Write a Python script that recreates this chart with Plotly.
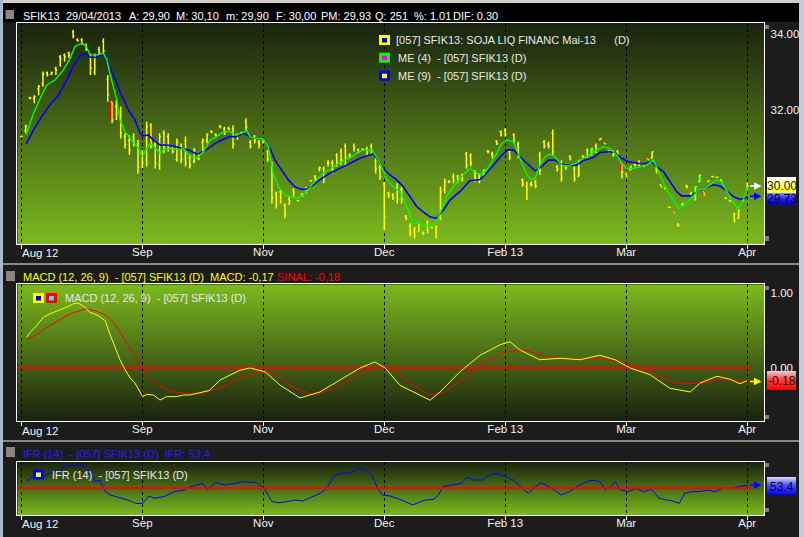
import base64
import plotly.graph_objects as go

W, H = 804, 537
FONT = "Liberation Sans, Arial, sans-serif"

# ---------------- data ----------------
tick_idx = [0, 28, 56, 84, 112, 140, 168]
tick_text = ["Aug 12", "Sep", "Nov", "Dec", "Feb 13", "Mar", "Apr"]

highs = [31.32, 31.61, 32.35, 32.39, 32.66, 33.01, 33.01, 33.01, 33.14, 33.45,
         33.49, 33.53, 34.11, 33.89, 33.89, 33.75, 33.49, 33.49, 33.67, 33.89,
         32.92, 32.22, 32.26, 32.09, 31.39, 31.34, 31.39, 31.21, 30.95, 31.69,
         31.65, 31.21, 31.39, 31.47, 31.39, 31.04, 31.25, 31.12, 31.30, 30.82,
         31.00, 30.90, 31.25, 31.39, 31.47, 31.39, 31.60, 31.56, 31.56, 31.60,
         31.39, 31.43, 31.78, 31.21, 31.34, 31.21, 31.25, 30.95, 30.64, 29.85,
         29.89, 29.54, 29.72, 29.94, 29.63, 29.81, 29.98, 30.16, 30.29, 30.51,
         30.51, 30.68, 30.68, 30.86, 30.99, 31.12, 30.86, 31.12, 30.99, 30.99,
         31.03, 31.12, 30.73, 30.55, 30.11, 29.85, 29.81, 30.07, 29.98, 29.24,
         29.02, 28.93, 29.02, 28.80, 29.10, 28.93, 28.97, 29.98, 30.20, 30.16,
         30.33, 30.29, 30.33, 30.90, 30.86, 30.42, 30.33, 30.42, 30.95, 30.90,
         31.21, 31.47, 31.52, 30.95, 31.39, 31.17, 30.20, 30.11, 30.11, 30.16,
         30.90, 31.21, 31.17, 31.49, 30.55, 30.68, 30.60, 30.81, 30.51, 30.68,
         30.81, 30.99, 30.99, 31.12, 31.25, 31.13, 30.95, 30.95, 30.95, 30.60,
         30.33, 30.51, 30.60, 30.68, 30.55, 30.72, 30.90, 30.51, 30.03, 29.95,
         29.45, 29.32, 29.02, 29.54, 30.03, 29.85, 29.98, 30.29, 29.85, 30.14,
         30.26, 30.24, 30.16, 29.69, 29.63, 29.30, 29.37, 29.68, 30.10]
lows = [31.28, 31.39, 32.28, 32.18, 32.39, 32.61, 32.88, 32.92, 32.92, 33.14,
        33.27, 33.36, 33.89, 33.80, 33.71, 33.55, 32.92, 32.92, 33.40, 33.45,
        32.22, 31.65, 31.74, 31.25, 30.99, 30.82, 31.04, 30.33, 30.47, 30.51,
        30.99, 30.46, 30.42, 30.86, 30.90, 30.86, 30.64, 30.60, 30.51, 30.46,
        30.60, 30.68, 30.86, 31.12, 31.39, 31.30, 31.52, 31.34, 31.47, 30.99,
        31.21, 31.34, 31.47, 30.99, 31.12, 30.99, 31.12, 30.64, 29.54, 29.41,
        29.54, 29.15, 29.50, 29.72, 29.59, 29.72, 29.81, 30.11, 30.11, 30.38,
        30.07, 30.51, 30.33, 30.51, 30.55, 30.55, 30.73, 30.90, 30.86, 30.95,
        30.81, 30.86, 30.33, 30.16, 28.84, 29.68, 29.63, 29.54, 29.54, 29.10,
        28.67, 28.62, 28.80, 28.71, 28.75, 28.89, 28.62, 29.10, 29.81, 30.07,
        30.07, 30.07, 30.11, 30.46, 30.51, 30.11, 30.07, 30.25, 30.86, 30.73,
        31.08, 31.30, 31.30, 30.68, 31.12, 30.73, 29.98, 29.63, 29.98, 29.94,
        30.29, 30.99, 30.99, 30.81, 30.38, 30.11, 30.42, 30.68, 30.11, 30.25,
        30.73, 30.73, 30.81, 30.86, 31.21, 31.11, 30.86, 30.77, 30.81, 30.20,
        30.25, 30.42, 30.51, 30.51, 30.51, 30.70, 30.73, 30.33, 29.98, 29.93,
        29.43, 29.30, 28.93, 29.50, 29.94, 29.72, 29.63, 30.11, 29.76, 30.12,
        30.24, 30.22, 30.11, 29.67, 29.59, 29.04, 29.15, 29.59, 29.90]
opens = [31.30, 31.45, 32.31, 32.31, 32.55, 32.70, 32.98, 32.95, 33.10, 33.40,
         33.45, 33.50, 34.05, 33.85, 33.85, 33.70, 33.40, 33.00, 33.60, 33.80,
         32.80, 32.22, 32.10, 31.95, 31.30, 31.20, 31.30, 31.10, 30.85, 30.70,
         31.60, 31.10, 30.55, 31.40, 31.30, 31.00, 30.70, 31.05, 31.20, 30.75,
         30.65, 30.85, 31.15, 31.20, 31.45, 31.35, 31.58, 31.50, 31.52, 31.50,
         31.35, 31.40, 31.70, 31.15, 31.30, 31.15, 31.20, 30.90, 30.50, 29.80,
         29.85, 29.50, 29.65, 29.90, 29.61, 29.78, 29.95, 30.14, 30.25, 30.45,
         30.45, 30.60, 30.60, 30.80, 30.90, 31.05, 30.80, 31.05, 30.95, 30.97,
         30.98, 31.05, 30.65, 30.50, 30.05, 29.80, 29.75, 29.95, 29.90, 29.20,
         28.95, 28.85, 28.80, 28.78, 29.05, 28.91, 28.97, 29.20, 29.90, 30.12,
         30.25, 30.25, 30.28, 30.85, 30.80, 30.35, 30.30, 30.25, 30.92, 30.85,
         31.18, 31.42, 31.48, 30.90, 31.35, 31.10, 30.15, 29.97, 30.05, 30.10,
         30.80, 31.15, 31.10, 31.40, 30.50, 30.60, 30.55, 30.78, 30.45, 30.25,
         30.78, 30.95, 30.81, 31.05, 31.21, 31.13, 30.92, 30.90, 30.90, 30.60,
         30.33, 30.42, 30.57, 30.62, 30.55, 30.72, 30.73, 30.45, 30.03, 29.93,
         29.44, 29.32, 29.00, 29.50, 30.00, 29.80, 29.63, 30.11, 29.85, 30.12,
         30.25, 30.23, 30.16, 29.68, 29.62, 29.25, 29.15, 29.65, 29.90]
closes = [31.30, 31.58, 32.31, 32.35, 32.62, 32.95, 32.92, 32.98, 33.05, 33.35,
          33.40, 33.45, 33.95, 33.82, 33.75, 33.60, 33.10, 33.40, 33.50, 33.55,
          32.40, 31.74, 31.90, 31.40, 31.10, 30.95, 31.15, 30.50, 30.60, 31.55,
          31.12, 30.60, 31.30, 30.95, 31.00, 30.90, 31.15, 30.70, 30.60, 30.55,
          30.95, 30.72, 31.20, 31.35, 31.42, 31.32, 31.55, 31.40, 31.50, 31.10,
          31.30, 31.38, 31.55, 31.05, 31.20, 31.10, 31.15, 30.70, 29.70, 29.50,
          29.70, 29.25, 29.60, 29.80, 29.61, 29.75, 29.90, 30.14, 30.20, 30.48,
          30.20, 30.62, 30.45, 30.60, 30.70, 30.75, 30.78, 31.00, 30.90, 30.97,
          30.90, 30.95, 30.45, 30.25, 29.20, 29.75, 29.70, 29.65, 29.65, 29.15,
          28.75, 28.70, 29.02, 28.75, 28.85, 28.91, 28.93, 29.85, 30.10, 30.10,
          30.15, 30.15, 30.20, 30.55, 30.60, 30.20, 30.15, 30.42, 30.90, 30.80,
          31.12, 31.35, 31.35, 30.75, 31.20, 30.80, 30.05, 29.92, 30.02, 30.00,
          30.40, 31.05, 31.05, 30.90, 30.45, 30.20, 30.50, 30.72, 30.20, 30.68,
          30.76, 30.80, 30.99, 30.95, 31.25, 31.11, 30.90, 30.82, 30.85, 30.38,
          30.25, 30.51, 30.55, 30.58, 30.51, 30.70, 30.90, 30.40, 29.98, 29.95,
          29.44, 29.30, 28.95, 29.54, 29.97, 29.76, 29.98, 30.29, 29.76, 30.14,
          30.25, 30.23, 30.11, 29.68, 29.60, 29.10, 29.37, 29.62, 30.00]
bar_idx = list(range(len(highs)))
assert len(lows) == len(opens) == len(closes) == len(highs) == 169

# coloured candle bodies (green = up, red = down)
body_idx = [21, 30, 92, 96, 107, 117, 129, 132, 134, 135, 139, 140, 141, 144, 145,
            146, 148, 149, 151, 153, 156, 157, 158, 159, 162, 166, 168]
body_open = [32.22, 31.60, 28.80, 28.99, 30.25, 29.97, 30.25, 30.81, 31.21, 31.14,
             30.60, 30.33, 30.42, 30.55, 30.73, 30.73, 30.03, 29.92, 29.33, 29.50,
             29.63, 30.11, 29.85, 30.11, 30.16, 29.15, 29.90]
body_close = [31.74, 31.12, 29.02, 28.93, 30.42, 29.92, 30.68, 30.99, 31.25, 31.10,
              30.38, 30.25, 30.51, 30.51, 30.69, 30.90, 29.98, 29.96, 29.29, 29.54,
              29.98, 30.29, 29.76, 30.15, 30.11, 29.37, 30.00]

# ME (4) - green, ME (9) - blue
me4_x = [1.1, 2.8, 4.7, 5.9, 7.8, 9.7, 11.3, 12.4, 14.0, 15.0, 15.9, 17.4, 19.0, 19.8,
         20.5, 21.3, 22.1, 22.8, 24.0, 25.5, 27.1, 28.0, 29.0, 29.9, 31.0, 32.1, 33.3,
         34.8, 36.3, 37.5, 38.7, 40.6, 42.1, 43.7, 45.2, 46.8, 48.3, 49.5, 51.0, 52.2,
         52.9, 54.5, 56.0, 57.2, 58.3, 59.5, 61.0, 62.6, 64.1, 65.7, 67.2, 68.7, 70.3,
         71.8, 73.4, 74.9, 76.5, 78.0, 79.5, 81.1, 82.2, 83.4, 84.6, 86.1, 87.6, 89.2,
         90.7, 92.3, 93.0, 94.2, 95.7, 96.9, 98.4, 100.0, 101.9, 103.8, 105.0, 106.2,
         107.3, 108.5, 110.0, 111.2, 112.3, 113.9, 115.4, 117.0, 118.1, 118.9, 120.0,
         121.2, 122.4, 123.5, 124.7, 125.8, 127.0, 128.5, 130.1, 131.6, 133.2, 134.7,
         136.2, 137.8, 138.9, 140.1, 141.6, 143.2, 144.7, 146.3, 147.8, 149.4, 150.9,
         152.1, 153.6, 155.1, 156.7, 158.2, 159.8, 160.9, 162.1, 163.2, 164.4, 165.8,
         166.7, 167.5, 168.0]
me4_y = [31.34, 31.91, 32.39, 32.66, 32.79, 33.05, 33.36, 33.67, 33.77, 33.67, 33.45,
         33.45, 33.49, 33.32, 32.96, 32.57, 32.26, 31.74, 31.43, 31.21, 30.99, 30.77,
         30.99, 31.12, 30.99, 30.86, 30.99, 30.99, 30.95, 30.99, 30.82, 30.73, 30.90,
         31.21, 31.30, 31.43, 31.43, 31.34, 31.39, 31.46, 31.30, 31.25, 31.23, 31.03,
         30.33, 29.98, 29.76, 29.72, 29.68, 29.81, 30.03, 30.20, 30.38, 30.46, 30.60,
         30.68, 30.77, 30.90, 30.95, 30.95, 30.77, 30.51, 30.16, 29.98, 29.85, 29.46,
         29.02, 29.02, 28.95, 28.97, 28.97, 29.28, 29.72, 29.98, 30.25, 30.46, 30.38,
         30.29, 30.38, 30.55, 30.86, 31.12, 31.21, 31.17, 30.73, 30.29, 30.16, 30.20,
         30.55, 30.77, 30.84, 30.77, 30.60, 30.51, 30.55, 30.60, 30.73, 30.81, 30.95,
         31.03, 30.99, 30.81, 30.60, 30.46, 30.46, 30.51, 30.55, 30.68, 30.29, 29.89,
         29.63, 29.41, 29.50, 29.68, 29.89, 29.94, 30.07, 30.16, 30.11, 29.89, 29.63,
         29.41, 29.54, 29.76, 29.98]
me9_x = [1.1, 2.8, 4.7, 6.6, 8.6, 10.5, 12.1, 13.6, 15.0, 15.9, 17.4, 19.0, 20.5, 21.7,
         23.2, 24.8, 26.3, 27.5, 28.0, 29.4, 30.6, 32.1, 33.6, 35.2, 37.1, 38.7, 40.6,
         42.1, 43.7, 45.2, 46.8, 48.3, 49.8, 51.4, 52.9, 54.5, 56.0, 57.6, 58.7, 60.3,
         61.8, 63.3, 64.9, 66.0, 67.6, 69.1, 70.7, 72.2, 73.8, 75.3, 76.8, 78.4, 79.9,
         81.5, 82.6, 83.8, 85.3, 86.9, 88.4, 89.9, 91.5, 93.0, 94.6, 96.1, 97.7, 99.2,
         101.5, 103.8, 106.2, 107.3, 109.2, 111.2, 112.7, 113.9, 115.4, 117.0, 118.9,
         120.4, 122.0, 123.5, 125.1, 127.0, 128.5, 130.1, 132.4, 133.9, 135.9, 137.4,
         138.9, 140.5, 142.4, 143.9, 145.9, 147.0, 148.6, 150.1, 151.7, 152.8, 155.1,
         156.7, 158.6, 160.2, 161.7, 163.2, 164.8, 166.3, 167.5, 168.0]
me9_y = [31.10, 31.47, 31.82, 32.13, 32.39, 32.79, 33.18, 33.42, 33.49, 33.39, 33.39,
         33.47, 33.14, 32.79, 32.39, 32.00, 31.74, 31.39, 31.32, 31.34, 31.21, 31.08,
         31.08, 31.05, 30.99, 30.95, 30.84, 30.90, 31.03, 31.14, 31.23, 31.30, 31.30,
         31.39, 31.30, 31.25, 31.23, 30.99, 30.68, 30.42, 30.16, 29.98, 29.91, 29.92,
         30.03, 30.16, 30.29, 30.38, 30.46, 30.55, 30.64, 30.73, 30.79, 30.84, 30.68,
         30.46, 30.29, 30.16, 29.98, 29.72, 29.46, 29.32, 29.19, 29.15, 29.37, 29.63,
         29.85, 30.14, 30.17, 30.29, 30.55, 30.81, 30.95, 30.95, 30.77, 30.60, 30.40,
         30.51, 30.68, 30.68, 30.57, 30.55, 30.55, 30.67, 30.75, 30.88, 30.90, 30.88,
         30.73, 30.64, 30.60, 30.58, 30.64, 30.51, 30.38, 30.11, 29.85, 29.74, 29.74,
         29.88, 29.96, 30.03, 30.00, 29.88, 29.72, 29.65, 29.68, 29.73]

# MACD (12, 26, 9): line (yellow) and signal (red)
macd_x = [1.2, 2.0, 3.5, 5.1, 6.6, 8.6, 10.5, 12.0, 13.2, 14.7, 15.9, 17.8, 19.4, 20.5,
          21.7, 22.8, 24.0, 25.2, 26.3, 27.5, 28.1, 29.0, 30.6, 32.1, 33.6, 35.9, 37.5,
          39.0, 40.6, 43.5, 46.0, 50.6, 52.9, 56.4, 59.9, 64.5, 69.1, 73.8, 78.4, 81.8,
          84.2, 87.6, 92.3, 94.6, 96.9, 101.5, 106.2, 110.8, 113.1, 115.4, 120.0, 124.7,
          129.3, 133.9, 137.4, 140.9, 145.5, 150.1, 154.8, 157.1, 161.0, 164.0, 166.3,
          168.0]
macd_y = [0.405, 0.473, 0.563, 0.676, 0.721, 0.766, 0.811, 0.856, 0.865, 0.811, 0.743,
          0.699, 0.631, 0.451, 0.270, 0.113, -0.022, -0.135, -0.203, -0.315, -0.382,
          -0.351, -0.36, -0.428, -0.382, -0.382, -0.36, -0.36, -0.338, -0.30, -0.16,
          -0.03, 0.0, -0.05, -0.23, -0.40, -0.32, -0.16, 0.0, 0.08, 0.0, -0.23, -0.36,
          -0.43, -0.32, -0.05, 0.17, 0.31, 0.35, 0.24, 0.11, 0.13, 0.11, 0.17, 0.11, 0.0,
          -0.09, -0.27, -0.32, -0.20, -0.11, -0.15, -0.21, -0.17]
signal_x = [1.2, 3.5, 5.9, 8.6, 11.3, 13.6, 15.1, 17.4, 19.8, 21.3, 23.2, 25.2, 26.7,
            28.1, 29.8, 31.7, 33.6, 35.9, 38.3, 40.6, 46.0, 50.6, 55.2, 58.7, 63.3, 67.9,
            72.5, 77.1, 81.8, 85.3, 89.9, 94.6, 98.1, 102.7, 107.3, 111.9, 116.5, 121.2,
            126.9, 133.9, 139.7, 145.5, 151.3, 157.1, 161.7, 168.0]
signal_y = [0.383, 0.442, 0.541, 0.631, 0.721, 0.766, 0.789, 0.757, 0.699, 0.608, 0.451,
            0.248, 0.113, -0.008, -0.135, -0.225, -0.293, -0.324, -0.338, -0.351, -0.27,
            -0.13, -0.05, -0.08, -0.27, -0.36, -0.27, -0.11, 0.01, 0.0, -0.20, -0.36,
            -0.32, -0.13, 0.08, 0.21, 0.24, 0.16, 0.12, 0.13, 0.07, -0.05, -0.20, -0.21,
            -0.15, -0.18]
macd_ref = 0.0

# IFR (14)
rsi_x = [1.2, 2.2, 5.2, 6.3, 9.3, 9.9, 14.1, 15.2, 16.4, 17.0, 18.2, 19.4, 20.6, 22.4,
         23.5, 25.3, 26.5, 28.1, 29.5, 30.7, 33.0, 35.4, 37.8, 39.0, 40.8, 42.0, 43.1,
         44.9, 47.3, 49.1, 51.4, 54.4, 56.2, 58.0, 59.8, 61.5, 63.3, 65.1, 66.9, 69.2,
         71.0, 72.2, 74.0, 76.4, 78.1, 79.9, 81.1, 82.3, 83.5, 85.3, 87.0, 88.8, 90.6,
         92.4, 93.6, 95.4, 96.5, 97.7, 100.1, 101.9, 103.1, 104.8, 106.6, 108.4, 110.2,
         112.0, 113.8, 115.5, 117.3, 119.1, 120.3, 121.5, 123.2, 125.0, 126.8, 128.6,
         130.4, 132.1, 133.9, 135.1, 136.3, 137.5, 138.7, 140.5, 142.2, 144.0, 145.8,
         147.6, 149.4, 150.5, 152.3, 153.5, 155.3, 157.1, 158.8, 160.6, 162.4, 164.2,
         166.0, 168.0]
rsi_y = [57.5, 62.0, 63.2, 66.9, 70.7, 75.5, 75.5, 70.7, 66.9, 57.5, 59.4, 46.3, 42.5,
         39.9, 37.6, 35.8, 33.1, 33.1, 41.4, 38.8, 40.6, 46.3, 48.1, 51.9, 53.8, 55.7,
         48.1, 56.4, 53.8, 55.7, 57.5, 56.4, 50.0, 35.0, 33.9, 35.0, 36.9, 35.8, 39.9,
         44.4, 51.9, 63.2, 66.9, 67.7, 72.5, 70.7, 65.0, 51.9, 42.5, 41.4, 38.8, 35.0,
         31.3, 35.0, 36.9, 37.6, 42.5, 51.9, 53.8, 55.7, 62.4, 59.4, 59.4, 65.0, 66.9,
         63.2, 59.4, 51.9, 44.4, 51.9, 56.4, 53.8, 48.1, 42.5, 46.3, 51.9, 56.4, 59.4,
         57.5, 48.1, 51.9, 57.5, 48.1, 46.3, 50.0, 46.3, 48.9, 38.8, 36.9, 36.1, 33.1,
         44.4, 46.3, 46.3, 48.1, 46.3, 50.0, 50.0, 51.9, 53.4]
rsi_ref = 50.0

title_fields = ["SFIK13", "29/04/2013", "A: 29,90", "M: 30,10", "m: 29,90", "F: 30,00",
                "PM: 29,93", "Q: 251", "%: 1.01", "DIF: 0.30"]

# ---------------- layout helpers ----------------
X_RANGE = [-0.93, 171.95]
XDOM = [17.3 / W, 764.3 / W]
MAIN_DOM = [1 - 244 / H, 1 - 23.3 / H]
MACD_DOM = [1 - 421 / H, 1 - 284.3 / H]
RSI_DOM = [1 - 515 / H, 1 - 461.7 / H]


def px(v):
    return v / W


def py(v):
    return 1 - v / H


def grad_uri(stops):
    st = "".join(f"<stop offset='{o}' stop-color='{c}'/>" for o, c in stops)
    svg = ("<svg xmlns='http://www.w3.org/2000/svg' width='10' height='100' "
           "viewBox='0 0 10 100' preserveAspectRatio='none'>"
           f"<defs><linearGradient id='g' x1='0' y1='0' x2='0' y2='1'>{st}</linearGradient></defs>"
           "<rect x='0' y='0' width='10' height='100' fill='url(#g)'/></svg>")
    return "data:image/svg+xml;base64," + base64.b64encode(svg.encode()).decode()


DARK, LIGHT = "#19220f", "#7cba1e"

fig = go.Figure()

# ---------------- main panel ----------------
fig.add_trace(go.Ohlc(x=bar_idx, open=opens, high=highs, low=lows, close=closes,
                      xaxis="x", yaxis="y", tickwidth=0.3,
                      increasing=dict(line=dict(color="#ffff00", width=1.5)),
                      decreasing=dict(line=dict(color="#ffff00", width=1.5)),
                      hoverinfo="skip", showlegend=False))
fig.add_trace(go.Scatter(x=me9_x, y=me9_y, mode="lines", xaxis="x", yaxis="y",
                         line=dict(color="#0000ff", width=1.6), hoverinfo="skip"))
fig.add_trace(go.Scatter(x=me4_x, y=me4_y, mode="lines", xaxis="x", yaxis="y",
                         line=dict(color="#00ff00", width=1.4), hoverinfo="skip"))
body_base = [min(o, c) for o, c in zip(body_open, body_close)]
body_h = [max(abs(c - o), 0.035) for o, c in zip(body_open, body_close)]
body_col = ["#00e000" if c >= o else "#ff0000" for o, c in zip(body_open, body_close)]
fig.add_trace(go.Bar(x=body_idx, y=body_h, base=body_base, width=0.6, xaxis="x", yaxis="y",
                     marker=dict(color=body_col, line=dict(width=0)), hoverinfo="skip"))

# ---------------- MACD panel ----------------
fig.add_trace(go.Scatter(x=[X_RANGE[0], bar_idx[-1] + 1], y=[macd_ref, macd_ref], mode="lines",
                         xaxis="x2", yaxis="y2", line=dict(color="#ff0000", width=2),
                         hoverinfo="skip"))
fig.add_trace(go.Scatter(x=signal_x, y=signal_y, mode="lines", xaxis="x2", yaxis="y2",
                         line=dict(color="#ff0000", width=1), hoverinfo="skip"))
fig.add_trace(go.Scatter(x=macd_x, y=macd_y, mode="lines", xaxis="x2", yaxis="y2",
                         line=dict(color="#ffff00", width=1), hoverinfo="skip"))

# ---------------- IFR panel ----------------
fig.add_trace(go.Scatter(x=rsi_x, y=rsi_y, mode="lines", xaxis="x3", yaxis="y3",
                         line=dict(color="#0000ff", width=1), hoverinfo="skip"))
fig.add_trace(go.Scatter(x=[X_RANGE[0], bar_idx[-1] + 1], y=[rsi_ref, rsi_ref], mode="lines",
                         xaxis="x3", yaxis="y3", line=dict(color="#ff0000", width=2),
                         hoverinfo="skip"))

# first label ("Aug 12") is drawn as an annotation shifted right (as in the original)
axis_ticktext = [""] + tick_text[1:]
xcommon = dict(range=X_RANGE, domain=XDOM, tickmode="array", tickvals=tick_idx,
               ticktext=axis_ticktext, ticks="outside", ticklen=4, tickcolor="white",
               ticklabelstandoff=-7,
               showgrid=True, gridcolor="black", griddash="dot", gridwidth=1,
               showline=True, linecolor="white", linewidth=1, mirror=True, zeroline=False,
               tickfont=dict(size=11.5, color="#f4f4f4", family=FONT),
               ticklabeloverflow="allow", automargin=False,
               rangeslider=dict(visible=False), fixedrange=True)
ycommon = dict(side="right", showgrid=False, showline=True, linecolor="white", linewidth=1,
               mirror=True, zeroline=False, ticks="outside", ticklen=3,
               tickcolor="rgba(0,0,0,0)", tickfont=dict(size=11.5, color="#f4f4f4", family=FONT),
               ticklabeloverflow="allow", automargin=False, fixedrange=True)

fig.update_layout(
    width=W, height=H, autosize=False,
    margin=dict(l=0, r=0, t=0, b=0, pad=0, autoexpand=False),
    paper_bgcolor="#1c1c1c", plot_bgcolor="rgba(0,0,0,0)", showlegend=False,
    hovermode=False, bargap=0, font=dict(family=FONT, size=11, color="white"),
    xaxis=dict(anchor="y", **xcommon),
    xaxis2=dict(anchor="y2", **xcommon),
    xaxis3=dict(anchor="y3", **xcommon),
    yaxis=dict(anchor="x", domain=MAIN_DOM, range=[28.4737, 34.2816], tickvals=[32, 34],
               ticktext=["32.00", "34.00"], **ycommon),
    yaxis2=dict(anchor="x2", domain=MACD_DOM, range=[-0.7067, 1.116], tickvals=[0, 1],
                ticktext=["0.00", "1.00"], **ycommon),
    yaxis3=dict(anchor="x3", domain=RSI_DOM, range=[20, 80], showticklabels=False,
                **ycommon),
)

# ---------------- background gradients ----------------
images = []
for ax, stops in (("", [(0, DARK), (1, LIGHT)]), ("2", [(0, LIGHT), (1, DARK)]),
                  ("3", [(0, DARK), (1, LIGHT)])):
    images.append(dict(source=grad_uri(stops), xref=f"x{ax} domain", yref=f"y{ax} domain",
                       x=0, y=1, sizex=1, sizey=1, xanchor="left", yanchor="top",
                       sizing="stretch", layer="below"))


def box_img(x0, x1, y0, y1, stops):
    return dict(source=grad_uri(stops), xref="paper", yref="paper", x=px(x0), y=py(y0),
                sizex=px(x1) - px(x0), sizey=py(y0) - py(y1), xanchor="left",
                yanchor="top", sizing="stretch", layer="above")


images.append(box_img(767, 796, 193, 205, [(0, "#8a8aff"), (0.5, "#2020f0"), (1, "#0000c8")]))
images.append(box_img(767, 796, 177, 193, [(0, "#ffffff"), (1, "#ffff00")]))
images.append(box_img(767, 796, 371, 390, [(0, "#dcd4d4"), (0.45, "#ff4040"), (1, "#ff0000")]))
images.append(box_img(767, 796, 477, 495, [(0, "#dcdcf0"), (0.45, "#5050ff"), (1, "#0000ff")]))
fig.update_layout(images=images)

# ---------------- decorative shapes ----------------
shapes = []


def rect(x0, x1, y0, y1, color, layer="above"):
    shapes.append(dict(type="rect", xref="paper", yref="paper", x0=px(x0), x1=px(x1),
                       y0=py(y1), y1=py(y0), fillcolor=color, line=dict(width=0),
                       layer=layer))


def hline(x0, x1, y, color, w=1):
    shapes.append(dict(type="line", xref="paper", yref="paper", x0=px(x0), x1=px(x1),
                       y0=py(y), y1=py(y), line=dict(color=color, width=w), layer="below"))


rect(0, 804, 0, 3, "#d4d0c8", "below")
rect(3, 800, 3, 22, "#000000", "below")
rect(0, 3, 0, 537, "#aab6ca", "below")
rect(799, 804, 0, 537, "#c4ccd8", "below")
hline(3, 799, 264, "#f0f0f0")
hline(3, 799, 441, "#f0f0f0")
# header squares
rect(5.5, 14, 10, 19, "#8c8884")
rect(6, 15, 271, 281, "#8c8480")
rect(6, 15, 447, 457, "#8c8480")
# scale handles
for a, b in ((25, 29), (236, 241), (286, 290), (415, 419), (463, 467), (508, 512)):
    rect(765, 769, a, b, "#808080")


# legend icons
def icon(x0, y0, outer, inner):
    rect(x0, x0 + 11, y0, y0 + 10, outer)
    rect(x0 + 3, x0 + 8, y0 + 3, y0 + 7.5, inner)


icon(379, 35, "#ffff00", "#0000ff")
icon(379, 52.7, "#00ff00", "#ff00ff")
icon(379, 70.7, "#0000ff", "#ffff00")
icon(33, 293, "#ffff00", "#0000ff")
icon(46, 293, "#ff0000", "#00ffff")
icon(33, 469.5, "#0000ff", "#ffff00")
fig.update_layout(shapes=shapes)

# ---------------- texts ----------------
ann = []


def txt(x, y, s, color="#e8e8e8", size=11, anchor="left"):
    ann.append(dict(x=px(x), y=py(y), xref="paper", yref="paper", text=s, showarrow=False,
                    xanchor=anchor, yanchor="middle",
                    font=dict(family=FONT, size=size, color=color)))


title_x = [21.4, 64.3, 126.8, 174.3, 224.3, 274.3, 319, 372.5, 411.8, 450.7]
for s, x in zip(title_fields, title_x):
    txt(x, 15.7, s, "#ffffff", 11)

# "Aug 12" labels under each panel
for ylab in (253, 431, 524):
    txt(20, ylab, tick_text[0], "#f4f4f4", 11.5)

NB = "\u00a0"
txt(394, 40, "[057] SFIK13: SOJA LIQ FINANC Mai-13" + NB * 5 + " (D)")
txt(396, 57.7, "ME (4)" + NB + " - [057] SFIK13 (D)")
txt(396, 75.7, "ME (9)" + NB + " - [057] SFIK13 (D)")

txt(21, 277, f"MACD (12, 26, 9){NB} - [057] SFIK13 (D){NB} MACD: {macd_y[-1]:.2f}".replace(".", ","),
    "#ffff00", 11)
txt(275, 277, f"SINAL: {signal_y[-1]:.2f}".replace(".", ","), "#ff0000", 11)
txt(63, 298, "MACD (12, 26, 9)" + NB + " - [057] SFIK13 (D)")

txt(21, 454, f"IFR (14){NB} - [057] SFIK13 (D){NB} IFR: {rsi_y[-1]:.1f}".replace(".", ","),
    "#2020ff", 11)
txt(50, 475, "IFR (14)" + NB + " - [057] SFIK13 (D)")

# last-value boxes
txt(781.5, 199, f"{me9_y[-1]:.2f}", "#000030", 12, "center")
txt(781.5, 186, f"{closes[-1]:.2f}", "#202020", 12, "center")
txt(781.5, 381, f"{signal_y[-1]:.2f}", "#101010", 12, "center")
txt(781.5, 486.5, f"{rsi_y[-1]:.1f}", "#000030", 12, "center")

# arrows to the value boxes
for xr, yr, yv, col in (("x", "y", closes[-1], "#ffffff"), ("x", "y", me9_y[-1], "#0000ff"),
                        ("x2", "y2", signal_y[-1], "#ffff00"),
                        ("x3", "y3", rsi_y[-1], "#0000ff")):
    ann.append(dict(x=171.3, y=yv, xref=xr, yref=yr, ax=-13, ay=0, axref="pixel",
                    ayref="pixel", text="", showarrow=True, arrowhead=2, arrowsize=1,
                    arrowwidth=1.5, arrowcolor=col))

fig.update_layout(annotations=ann)

fig.write_html("out.html", config={"displayModeBar": False},
               post_script="document.body.style.margin='0';document.body.style.overflow='hidden';")
